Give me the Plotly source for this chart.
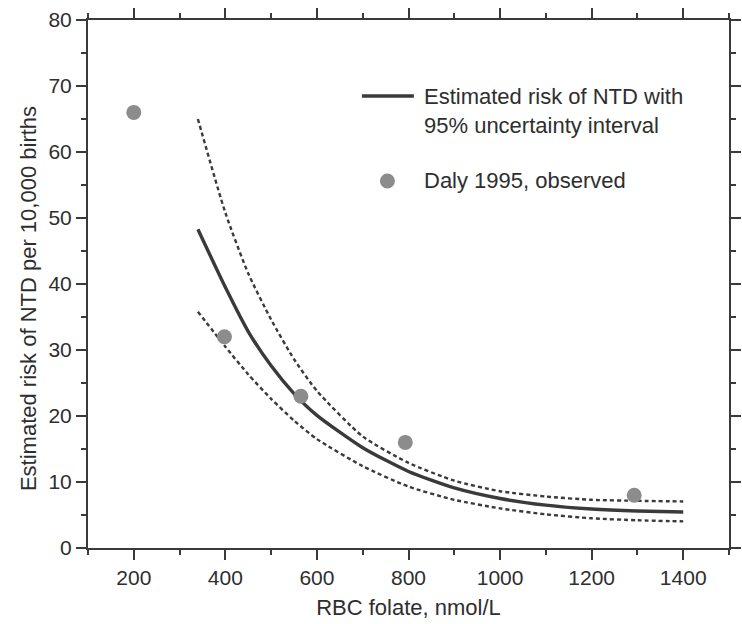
import plotly.graph_objects as go

# observed points (Daly 1995)
obs_x = [200, 398, 565, 793, 1293]
obs_y = [66, 32, 23, 16, 8]

# estimated risk curve and 95% uncertainty bounds
fit_x = [340, 400, 450, 500, 550, 600, 700, 800, 900, 1000, 1100, 1200, 1300, 1400]
fit_mid = [48.3, 39.5, 32.8, 27.6, 23.4, 20.1, 15.2, 11.6, 9.1, 7.5, 6.5, 5.9, 5.6, 5.45]
fit_hi = [65.0, 50.8, 41.6, 34.6, 28.6, 23.8, 16.9, 12.9, 10.2, 8.6, 7.8, 7.3, 7.15, 7.05]
fit_lo = [35.8, 30.5, 26.3, 22.6, 19.3, 16.5, 12.4, 9.3, 7.3, 6.0, 5.1, 4.5, 4.2, 4.03]

legend_line = 'Estimated risk of NTD with<br>95% uncertainty interval'
legend_dots = 'Daly 1995, observed'

ink = '#3a3a3a'
txt = '#2e2e2e'
dot = '#8c8c8c'
font = 'Liberation Sans, Arial, sans-serif'

fig = go.Figure()

for ys in (fit_hi, fit_lo):
    fig.add_trace(go.Scatter(x=fit_x, y=ys, mode='lines', showlegend=False, hoverinfo='skip',
                             line=dict(color=ink, width=2.4, dash='4px,3px', shape='spline', smoothing=0.6)))
fig.add_trace(go.Scatter(x=fit_x, y=fit_mid, mode='lines', showlegend=False,
                         line=dict(color=ink, width=3.4, shape='spline', smoothing=0.6)))
fig.add_trace(go.Scatter(x=obs_x, y=obs_y, mode='markers', showlegend=False,
                         marker=dict(color=dot, size=15)))

axis_common = dict(
    showline=True, linecolor=ink, linewidth=2, mirror='ticks',
    ticks='outside', ticklen=10, tickwidth=2, tickcolor=ink,
    showgrid=False, zeroline=False,
    tickfont=dict(family=font, size=21, color=txt),
)

fig.update_xaxes(range=[100, 1500], dtick=200, tick0=200,
                 minor=dict(dtick=100, tick0=100, ticks='outside', ticklen=5, tickwidth=2, tickcolor=ink),
                 title=dict(text='RBC folate, nmol/L', font=dict(family=font, size=22, color=txt), standoff=11),
                 **axis_common)
fig.update_yaxes(range=[0, 80], dtick=10,
                 minor=dict(dtick=5, ticks='outside', ticklen=5, tickwidth=2, tickcolor=ink),
                 **axis_common)

# y axis title placed as annotation (sits a little below plot centre in the original)
fig.add_annotation(text='Estimated risk of NTD per 10,000 births', textangle=-90,
                   xref='paper', yref='paper', x=-0.0919, y=0.4716, showarrow=False,
                   xanchor='center', yanchor='middle',
                   font=dict(family=font, size=22, color=txt))

# hand-drawn legend
fig.add_shape(type='line', xref='paper', yref='paper', x0=0.4273, x1=0.5084, y0=0.856, y1=0.856,
              line=dict(color=ink, width=3.4))
fig.add_shape(type='circle', xref='paper', yref='paper', xsizemode='pixel', ysizemode='pixel',
              xanchor=0.4671, yanchor=0.6951, x0=-7.5, x1=7.5, y0=-7.5, y1=7.5,
              fillcolor=dot, line=dict(width=0))
fig.add_annotation(text=legend_line, xref='paper', yref='paper', x=0.5207, y=0.8277,
                   xanchor='left', yanchor='middle', align='left', showarrow=False,
                   font=dict(family=font, size=22, color=txt))
fig.add_annotation(text=legend_dots, xref='paper', yref='paper', x=0.5207, y=0.6951,
                   xanchor='left', yanchor='middle', align='left', showarrow=False,
                   font=dict(family=font, size=22, color=txt))

fig.update_layout(
    width=742, height=624,
    margin=dict(l=88, r=1, t=20, b=76),
    plot_bgcolor='white', paper_bgcolor='white',
    showlegend=False,
)

# no page margin or scrollbars, so the 742x624 figure fills the window exactly
page_js = ("document.body.style.margin='0';"
           "document.body.style.overflow='hidden';"
           "document.documentElement.style.overflow='hidden';")
fig.write_html("out.html", config={'displayModeBar': False}, post_script=page_js)
